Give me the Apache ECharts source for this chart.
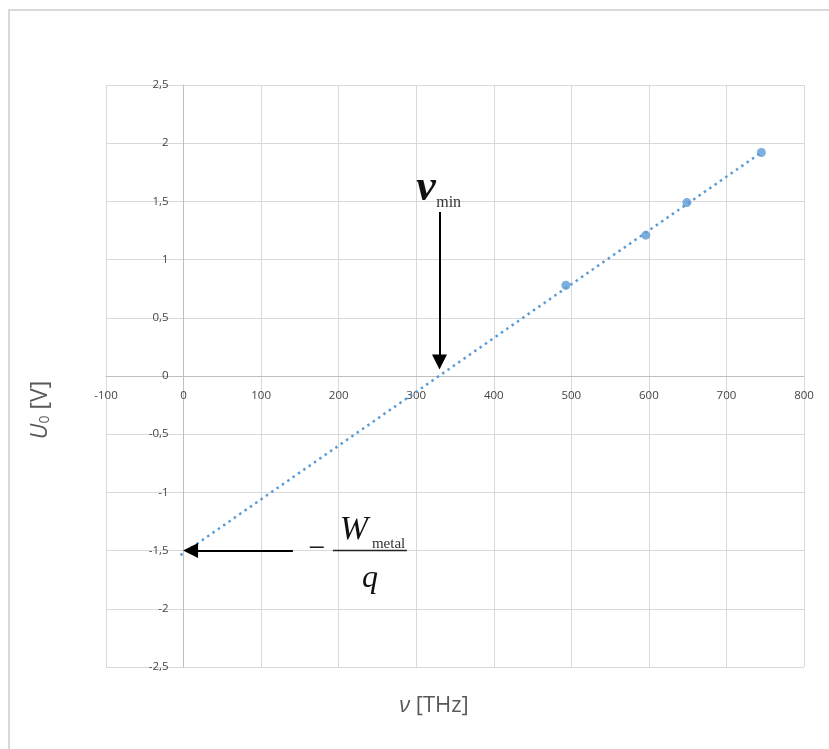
<!DOCTYPE html>
<html>
<head>
<meta charset="utf-8">
<style>html,body{margin:0;padding:0;background:#fff}#c{width:829px;height:749px}</style>
<script src="https://cdn.jsdelivr.net/npm/echarts@6/dist/echarts.min.js"></script>
</head>
<body>
<div id="c"></div>
<script>
// Data
const frequencies = [493, 596, 649, 745];          // ν [THz]
const voltages = [0.78, 1.21, 1.49, 1.92];          // U0 [V]
const trendStart = [-4, -1.54];
const trendEnd = [745, 1.92];
const xTicks = [-100, 800, 100];                    // min, max, interval
const yTicks = [-2.5, 2.5, 0.5];
const nuMinArrow = [[330, 1.41], [330, 0.12]];
const wArrow = [[141, -1.5], [9, -1.5]];

const chart = echarts.init(document.getElementById('c'));
const labelColor = '#595959';
const tickColor = '#444';
const blue = '#5b9bd5';
const G = {left: 106, right: 25, top: 85, bottom: 82};

chart.setOption({
  animation: false,
  backgroundColor: '#fff',
  grid: {left: G.left, right: G.right, top: G.top, bottom: G.bottom, containLabel: false},
  xAxis: {
    type: 'value', min: xTicks[0], max: xTicks[1], interval: xTicks[2], position: 'bottom',
    axisLine: {show: true, onZero: false, lineStyle: {color: '#bfbfbf', width: 1}},
    axisTick: {show: false},
    axisLabel: {color: tickColor, fontSize: 11.5, fontFamily: 'Open Sans', margin: 14},
    splitLine: {show: true, lineStyle: {color: '#d9d9d9', width: 1}}
  },
  yAxis: {
    type: 'value', min: yTicks[0], max: yTicks[1], interval: yTicks[2], position: 'left',
    axisLine: {show: true, onZero: false, lineStyle: {color: '#bfbfbf', width: 1}},
    axisTick: {show: false},
    axisLabel: {color: tickColor, fontSize: 11.5, fontFamily: 'Open Sans', margin: 15,
      formatter: v => String(v).replace('.', ',')},
    splitLine: {show: true, lineStyle: {color: '#d9d9d9', width: 1}}
  },
  series: [
    {
      type: 'line', data: [trendStart, trendEnd], showSymbol: false, symbol: 'none',
      lineStyle: {color: blue, width: 2.5, type: [2.5, 4]}, silent: true, z: 2
    },
    {
      type: 'scatter', data: frequencies.map((f, i) => [f, voltages[i]]),
      symbolSize: 9, itemStyle: {color: blue}, z: 3,
      markLine: {
        silent: true, symbol: ['none', 'triangle'], symbolSize: 15,
        label: {show: false},
        lineStyle: {color: '#000', width: 2, type: 'solid'},
        data: [
          [{coord: nuMinArrow[0]}, {coord: nuMinArrow[1]}],
          [{coord: wArrow[0]}, {coord: wArrow[1]}]
        ]
      }
    }
  ]
});

function px(p) { return chart.convertToPixel({gridIndex: 0}, p); }
const origin = px([0, 0]);
const H = 749;
chart.setOption({
  xAxis: {offset: -((H - G.bottom) - origin[1])},
  yAxis: {offset: -(origin[0] - G.left)}
});

const nuPos = px([300, 1.61]);
const wPos = px([150, -1.5]);

chart.setOption({
  graphic: [
    {type: 'rect', shape: {x: 9, y: 10, width: 900, height: 900},
     style: {fill: 'none', stroke: '#d9d9d9', lineWidth: 2}, silent: true},
    {type: 'text', x: 40, y: 410, rotation: Math.PI / 2,
     style: {text: '{i|U}{s|0} [V]', textAlign: 'center', textVerticalAlign: 'middle',
       fill: labelColor, font: '23px "Open Sans"',
       rich: {i: {fontStyle: 'italic', fontSize: 23, fontFamily: 'Open Sans', fill: labelColor},
              s: {fontSize: 14, fontFamily: 'Open Sans', fill: labelColor, verticalAlign: 'bottom', padding: [10, 0, 0, 0]}}}},
    {type: 'text', x: 434, y: 706,
     style: {text: '{i|ν} [THz]', textAlign: 'center', textVerticalAlign: 'middle',
       fill: labelColor, font: '22px "Open Sans"',
       rich: {i: {fontStyle: 'italic', fontSize: 22, fontFamily: 'Open Sans', fill: labelColor}}}},
    // ν_min annotation
    {type: 'text', x: nuPos[0], y: nuPos[1],
     style: {text: 'ν', font: 'italic bold 44px "Liberation Serif"', fill: '#111',
       textAlign: 'left', textVerticalAlign: 'middle'}},
    {type: 'text', x: nuPos[0] + 20, y: nuPos[1] + 14,
     style: {text: 'min', font: '16px "Liberation Serif"', fill: '#333',
       textAlign: 'left', textVerticalAlign: 'middle'}},
    // −W_metal / q annotation
    {type: 'text', x: wPos[0] + 17, y: wPos[1] - 1,
     style: {text: '−', font: '30px "Liberation Serif"', fill: '#111',
       textAlign: 'center', textVerticalAlign: 'middle'}},
    {type: 'text', x: wPos[0] + 54, y: wPos[1] - 21,
     style: {text: 'W', font: 'italic 34px "Liberation Serif"', fill: '#111',
       textAlign: 'center', textVerticalAlign: 'middle'}},
    {type: 'text', x: wPos[0] + 72, y: wPos[1] - 7,
     style: {text: 'metal', font: '15px "Liberation Serif"', fill: '#333',
       textAlign: 'left', textVerticalAlign: 'middle'}},
    {type: 'line', shape: {x1: wPos[0] + 33, y1: wPos[1], x2: wPos[0] + 107, y2: wPos[1]},
     style: {stroke: '#222', lineWidth: 1.5}},
    {type: 'text', x: wPos[0] + 70, y: wPos[1] + 28,
     style: {text: 'q', font: 'italic 32px "Liberation Serif"', fill: '#111',
       textAlign: 'center', textVerticalAlign: 'middle'}}
  ]
});
</script>
</body>
</html>
